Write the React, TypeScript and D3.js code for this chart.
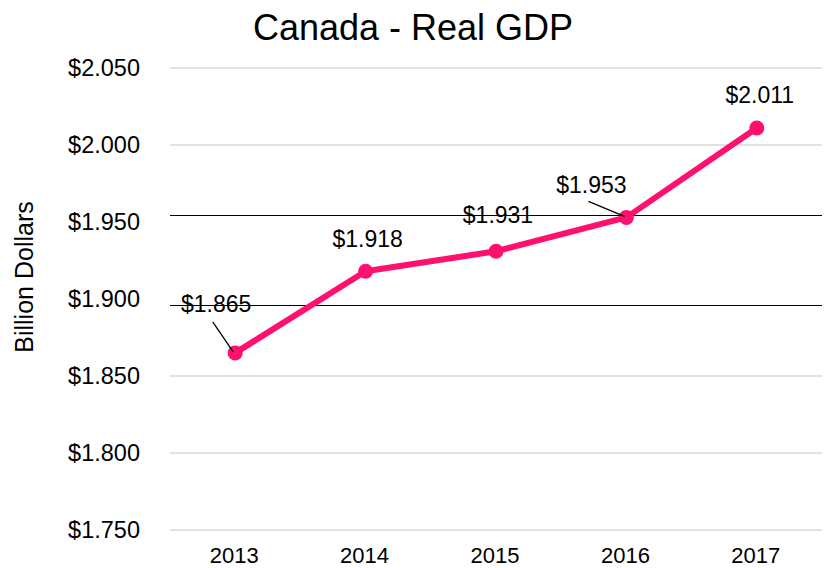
import * as d3 from "d3";

const years = ["2013", "2014", "2015", "2016", "2017"];
const gdp = [1.865, 1.918, 1.931, 1.953, 2.011];
const yTicks = [1.75, 1.8, 1.85, 1.9, 1.95, 2.0, 2.05];
// the 1.900 and 1.950 gridlines are drawn black and slightly shifted in the original
const blackRules = [1.9545, 1.896];
const blackTicks = [1.9, 1.95];

const width = 826;
const height = 568;
const margin = { top: 68, right: 4, bottom: 38, left: 170 };
const font = "Arial, 'Liberation Sans', sans-serif";
const pink = "#ff0f6e";

// label offsets relative to the point (text baseline) and leader start
const labelPos: { dx: number; dy: number; lead?: [number, number] }[] = [
  { dx: -19, dy: -41, lead: [-22.5, -31] },
  { dx: 2, dy: -24 },
  { dx: 2, dy: -28 },
  { dx: -35, dy: -24, lead: [-38, -16] },
  { dx: 3, dy: -25 },
];

export default function App() {
  const x = d3
    .scaleBand<string>()
    .domain(years)
    .range([margin.left, width - margin.right]);
  const y = d3
    .scaleLinear()
    .domain([1.75, 2.05])
    .range([height - margin.bottom, margin.top]);

  const cx = (yr: string) => (x(yr) ?? 0) + x.bandwidth() / 2;
  const line = d3
    .line<number>()
    .x((_, i) => cx(years[i]))
    .y((d) => y(d));

  const fmt = (v: number) => "$" + v.toFixed(3);

  return (
    <svg
      width={width}
      height={height}
      style={{ position: "absolute", left: 0, top: 0, background: "#fff" }}
      fontFamily={font}
    >
      <text x={413} y={40} textAnchor="middle" fontSize={36} fill="#000">
        Canada - Real GDP
      </text>

      <text
        transform={`translate(33,277) rotate(-90)`}
        textAnchor="middle"
        fontSize={25}
        fill="#000"
      >
        Billion Dollars
      </text>

      {yTicks.map((t) => (
        <g key={t}>
          {!blackTicks.includes(t) && (
            <line
              x1={margin.left}
              x2={width - margin.right}
              y1={y(t)}
              y2={y(t)}
              stroke="#d9d9d9"
              strokeWidth={1.5}
            />
          )}
          <text
            x={140}
            y={y(t)}
            dy="0.35em"
            textAnchor="end"
            fontSize={23.5}
            fill="#000"
          >
            {fmt(t)}
          </text>
        </g>
      ))}

      {blackRules.map((v) => (
        <line
          key={v}
          x1={margin.left}
          x2={width - margin.right}
          y1={Math.round(y(v)) + 0.5}
          y2={Math.round(y(v)) + 0.5}
          stroke="#000"
          strokeWidth={1}
        />
      ))}

      {years.map((yr) => (
        <text
          key={yr}
          x={cx(yr) - 1}
          y={563}
          textAnchor="middle"
          fontSize={22}
          fill="#000"
        >
          {yr}
        </text>
      ))}

      <path
        d={line(gdp) ?? ""}
        fill="none"
        stroke={pink}
        strokeWidth={6}
        strokeLinejoin="round"
      />
      {gdp.map((v, i) => (
        <circle key={i} cx={cx(years[i])} cy={y(v)} r={7.5} fill={pink} />
      ))}

      {gdp.map((v, i) => {
        const px = cx(years[i]);
        const py = y(v);
        const p = labelPos[i];
        return (
          <g key={"l" + i}>
            {p.lead && (
              <line
                x1={px + p.lead[0]}
                y1={py + p.lead[1]}
                x2={px - 2}
                y2={py - 1}
                stroke="#000"
                strokeWidth={1.3}
              />
            )}
            <text
              x={px + p.dx}
              y={py + p.dy}
              textAnchor="middle"
              fontSize={23}
              fill="#000"
            >
              {fmt(v)}
            </text>
          </g>
        );
      })}
    </svg>
  );
}
